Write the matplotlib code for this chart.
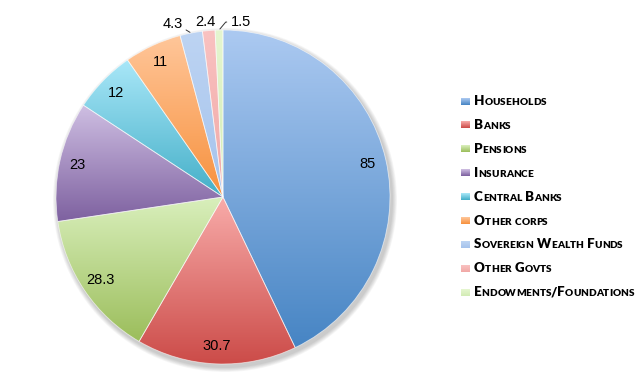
import numpy as np
import matplotlib
matplotlib.use("Agg")
import matplotlib.pyplot as plt
from matplotlib.colors import to_rgb

# data
sectors = ["Households", "Banks", "Pensions", "Insurance", "Central Banks",
           "Other corps", "Sovereign Wealth Funds", "Other Govts",
           "Endowments/Foundations"]
values = [85, 30.7, 28.3, 23, 12, 11, 4.3, 2.4, 1.5]
value_labels = ["85", "30.7", "28.3", "23", "12", "11", "4.3", "2.4", "1.5"]

# gradient colours (top, bottom) per sector
grad_top = ["#abc9f1", "#f8aba9", "#d9efbc", "#cebee2", "#a9e7f8",
            "#ffc699", "#bdd4f3", "#f9c2c1", "#e5f6d0"]
grad_bot = ["#4785c4", "#cc4c49", "#9cbe5c", "#7e61a0", "#44afc8",
            "#f7913e", "#a5c3ec", "#f1a8a6", "#d3ecb5"]

W, H = 638, 374
cx, cy, R = 223, 374 - 197, 167

fig = plt.figure(figsize=(W / 100, H / 100), dpi=100)
ax = fig.add_axes([0, 0, 1, 1])


def gradient(top, bot, n=64):
    t = np.linspace(0, 1, n)[:, None]
    a = np.array(to_rgb(bot))
    b = np.array(to_rgb(top))
    return (a[None, :] * (1 - t) + b[None, :] * t)[:, None, :]


# soft shadow
for i in range(6):
    ax.add_patch(plt.Circle((cx + 2, cy - 3), R + 1 + i * 0.8, color="k",
                            alpha=0.035, lw=0, zorder=0))

wedges, _ = ax.pie(values, startangle=90, counterclock=False,
                   center=(cx, cy), radius=R,
                   wedgeprops=dict(edgecolor=(1, 1, 1, 0.6), linewidth=0.6))

for w, top, bot in zip(wedges, grad_top, grad_bot):
    w.set_facecolor("none")
    w.set_zorder(3)
    ext = w.get_path().get_extents()
    im = ax.imshow(gradient(top, bot), origin="lower", aspect="auto",
                   extent=[ext.x0, ext.x1, ext.y0, ext.y1], zorder=2,
                   interpolation="bilinear")
    im.set_clip_path(w)

# value labels
small_offsets = {6: (-18, 9), 7: (-3, 9), 8: (22, 8)}
for i, (w, lab) in enumerate(zip(wedges, value_labels)):
    ang = np.deg2rad((w.theta1 + w.theta2) / 2)
    if i in small_offsets:
        ex, ey = cx + R * np.cos(ang), cy + R * np.sin(ang)
        dx, dy = small_offsets[i]
        if i == 6:
            arrow = dict(arrowstyle="-", color="#333333", lw=0.7,
                         relpos=(1, 0.2), shrinkA=0, shrinkB=1)
        elif i == 8:
            arrow = dict(arrowstyle="-", color="#333333", lw=0.7,
                         relpos=(0, 0.5), shrinkA=1, shrinkB=1,
                         connectionstyle="angle,angleA=0,angleB=50,rad=0")
        else:
            arrow = None
        ax.annotate(lab, xy=(ex, ey), xytext=(ex + dx, ey + dy),
                    ha="center", va="center", fontsize=10.5,
                    family="Liberation Sans", arrowprops=arrow, zorder=5)
    else:
        r = 0.89 * R
        ax.text(cx + r * np.cos(ang), cy + r * np.sin(ang), lab,
                ha="center", va="center", fontsize=10.5,
                family="Liberation Sans", zorder=5)

ax.set_xlim(0, W)
ax.set_ylim(0, H)
ax.set_aspect("equal")
ax.axis("off")

# legend with small caps
renderer = fig.canvas.get_renderer()
leg_x, leg_y0, leg_dy = 474, 374 - 105, 23.9
big, small = 9.6, 7.2


def smallcaps(x, y, s):
    for ch in s:
        if ch == " ":
            x += 3.5
            continue
        if ch.islower():
            t = ax.text(x, y, ch.upper(), fontsize=small, fontweight="heavy",
                        family="Lato", va="baseline", zorder=5)
        else:
            t = ax.text(x, y, ch, fontsize=big, fontweight="heavy",
                        family="Lato", va="baseline", zorder=5)
        x += t.get_window_extent(renderer).width


for i, (name, top, bot) in enumerate(zip(sectors, grad_top, grad_bot)):
    y = leg_y0 - i * leg_dy
    ax.imshow(gradient(top, bot, 16), origin="lower", aspect="auto",
              extent=[461, 470, y + 0.5, y + 7.5], zorder=4)
    smallcaps(leg_x, y, name)

ax.set_xlim(0, W)
ax.set_ylim(0, H)

fig.savefig("out.png", dpi=100)
